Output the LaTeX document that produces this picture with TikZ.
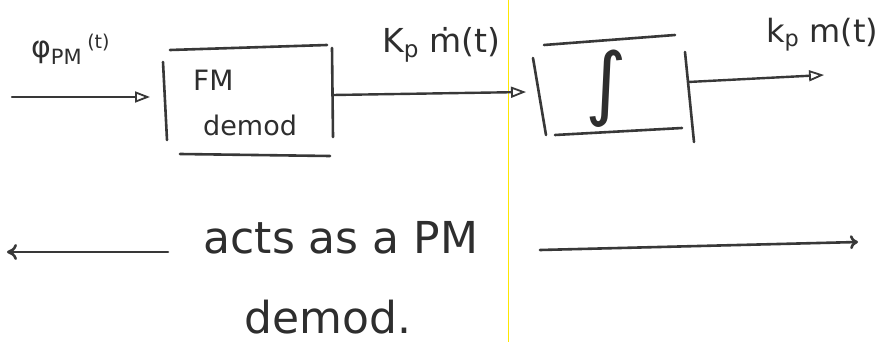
\documentclass[tikz,border=0pt]{standalone}
\usepackage{fontspec}
\setmainfont{DejaVu Sans}
\usetikzlibrary{arrows.meta}
\tikzset{
  pen/.style={line width=2.6pt, color=black!78, line cap=round},
  sig/.style={line width=2.4pt, color=black!78, line cap=round, -{Triangle[open, length=15pt, width=11pt, line width=1.8pt]}},
  hand/.style={font=\fontsize{#1}{#1}\selectfont, text=black!82, inner sep=0pt},
  hand/.default=26,
  blk/.style={draw=none, minimum width=#1, minimum height=90pt, inner sep=0pt},
}
\begin{document}
\begin{tikzpicture}[x=1pt,y=-1pt]
\useasboundingbox (0,0) rectangle (885,342);
\fill[white] (0,0) rectangle (885,342);
% scan artifact
\draw[yellow!90!orange, line width=1pt] (508,0) -- (508,342);

% blocks
\node[blk=170pt] (fm) at (248,100) {};
\node[blk=160pt] (int) at (612,88) {};

% FM demod box sides
\draw[pen] (163,62) -- (167,140);
\draw[pen] (170,50) -- (327,45);
\draw[pen] (180,154) -- (330,156);
\draw[pen] (332,48) -- (333,137);
\node[hand=28, anchor=south west] (fmt) at (193,91) {FM};
\node[hand=27, anchor=south west] (dmt) at (203,136) {demod};

% integrator box sides
\draw[pen] (533,58) -- (546,135);
\draw[pen] (544,45) -- (675,35);
\draw[pen] (555,135) -- (682,128);
\draw[pen] (685,52) -- (694,142);
\node[hand=80] (intt) at (606,89) {∫};

% connectors
\coordinate (in) at (12,97);
\coordinate (fmL) at (150,97);
\coordinate (fmR) at (333,95);
\coordinate (intL) at (526,92);
\coordinate (intR) at (688,82);
\coordinate (out) at (824,75);
\draw[sig] (in) -- (fmL);
\draw[sig] (fmR) -- (intL);
\draw[sig] (intR) -- (out);

% labels
\node[hand=30, anchor=base west] (l1) at (31,58) {φ\textsubscript{PM}\,\raisebox{9pt}{\fontsize{19}{19}\selectfont(t)}};
\node[hand=33, anchor=base west] (l2) at (382,53) {K\textsubscript{p} ṁ(t)};
\node[hand=32, anchor=base west] (l3) at (766,43) {k\textsubscript{p} m(t)};

% bottom
\coordinate (la) at (168,252);
\coordinate (lb) at (7,252);
\coordinate (ra) at (540,250);
\coordinate (rb) at (858,242);
\draw[pen, -{To[length=10pt,width=16pt]}] (la) -- (lb);
\draw[pen, -{To[length=8pt,width=14pt]}] (ra) -- (rb);
\node[hand=44, anchor=base] (acts) at (341,253) {acts as a PM};
\node[hand=44, anchor=base] (demod) at (328,333) {demod.};
\end{tikzpicture}
\end{document}
